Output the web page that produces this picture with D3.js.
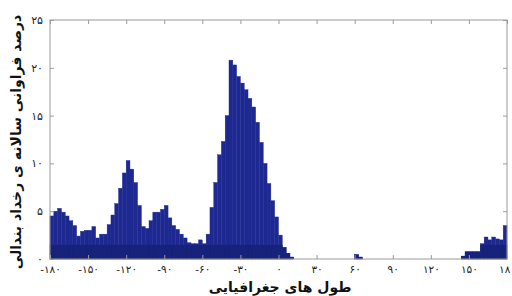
<!DOCTYPE html>
<html>
<head>
<meta charset="utf-8">
<script src="https://cdn.jsdelivr.net/npm/d3@7"></script>
<style>
  html, body { margin: 0; padding: 0; background: #fff; }
  svg { display: block; }
  text { font-family: "DejaVu Sans", sans-serif; }
</style>
</head>
<body>
<div id="chart"></div>
<script>
// bin start longitudes (3 degree bins)
var binStarts = d3.range(-180, 180, 3);

// yearly frequency percent per bin
var freq = [
  4.5, 5.0, 5.3, 4.9, 4.5, 4.0, 3.5, 2.4, 2.9, 3.0,
  3.0, 3.4, 2.2, 2.6, 2.6, 3.6, 4.6, 5.8, 7.4, 9.0,
  10.3, 9.4, 8.0, 5.6, 3.4, 3.2, 4.0, 4.9, 4.9, 5.2,
  5.6, 4.3, 3.5, 3.1, 2.6, 2.2, 1.7, 1.6, 1.6, 2.0,
  1.6, 2.6, 5.4, 8.0, 10.9, 12.3, 15.0, 20.8, 20.3, 19.1,
  18.4, 17.7, 16.8, 15.9, 14.3, 12.2, 10.0, 7.9, 6.1, 4.4,
  2.5, 1.2, 0.6, 0.2, 0, 0, 0, 0, 0, 0,
  0, 0, 0, 0, 0, 0, 0, 0, 0, 0,
  0.45, 0.2, 0, 0, 0, 0, 0, 0, 0, 0,
  0, 0, 0, 0, 0, 0, 0, 0, 0, 0,
  0, 0, 0, 0, 0, 0, 0, 0, 0.3, 0.75,
  0.75, 0.75, 0.75, 1.6, 2.3, 2.0, 2.3, 2.1, 2.0, 3.5
];

// darker lower layer seen at the base of the bars
var baseLayer = [
  1.45, 1.45, 1.45, 1.45, 1.45, 1.45, 1.45, 1.45, 1.45, 1.45,
  1.45, 1.45, 1.45, 1.45, 1.45, 1.45, 1.45, 1.45, 1.45, 1.45,
  1.45, 1.45, 1.45, 1.45, 1.45, 1.45, 1.45, 1.45, 1.45, 1.45,
  1.45, 1.45, 1.45, 1.45, 1.45, 1.45, 1.45, 1.45, 1.45, 1.45,
  1.45, 1.45, 1.45, 1.45, 1.45, 1.45, 1.45, 1.45, 1.45, 1.45,
  1.45, 1.45, 1.45, 1.45, 1.45, 1.45, 1.45, 1.45, 1.45, 1.45,
  1.45, 1.2, 0.6, 0.2, 0, 0, 0, 0, 0, 0,
  0, 0, 0, 0, 0, 0, 0, 0, 0, 0,
  0.45, 0.2, 0, 0, 0, 0, 0, 0, 0, 0,
  0, 0, 0, 0, 0, 0, 0, 0, 0, 0,
  0, 0, 0, 0, 0, 0, 0, 0, 0.3, 0.75,
  0.75, 0.75, 0.75, 1.45, 1.45, 1.45, 1.45, 1.45, 1.45, 1.45
];

var xTicks = d3.range(-180, 181, 30);
var yTicks = [0, 5, 10, 15, 20, 25];

var xTitle = "طول های جغرافیایی";
var yTitle = "درصد فراوانی سالانه ی رخداد بندالی";

var W = 512, H = 296;
var margin = {top: 20, right: 5, bottom: 37, left: 50};

// persian digits
function fa(n) {
  var digits = "۰۱۲۳۴۵۶۷۸۹";
  var s = String(Math.abs(n)).replace(/[0-9]/g, function (d) { return digits[+d]; });
  return (n < 0 ? "-" : "") + s;
}

var svg = d3.select("#chart").append("svg")
  .attr("width", W)
  .attr("height", H);

var x = d3.scaleLinear().domain([-180, 180]).range([margin.left, W - margin.right]);
var y = d3.scaleLinear().domain([0, 25]).range([H - margin.bottom, margin.top]);

var bins = binStarts.map(function (b, i) {
  return {x0: b, x1: b + 3, v: freq[i], base: baseLayer[i]};
});

// main bars
svg.append("g").selectAll("rect.bar")
  .data(bins.filter(function (d) { return d.v > 0; }))
  .join("rect")
  .attr("class", "bar")
  .attr("x", function (d) { return x(d.x0); })
  .attr("width", function (d) { return x(d.x1) - x(d.x0); })
  .attr("y", function (d) { return y(d.v); })
  .attr("height", function (d) { return y(0) - y(d.v); })
  .attr("fill", "#1d2991")
  .attr("stroke", "#1d2991")
  .attr("stroke-width", 0.4);

// darker bottom layer
svg.append("g").selectAll("rect.base")
  .data(bins.filter(function (d) { return d.base > 0; }))
  .join("rect")
  .attr("class", "base")
  .attr("x", function (d) { return x(d.x0); })
  .attr("width", function (d) { return x(d.x1) - x(d.x0); })
  .attr("y", function (d) { return y(d.base); })
  .attr("height", function (d) { return y(0) - y(d.base); })
  .attr("fill", "#17227a")
  .attr("stroke", "#17227a")
  .attr("stroke-width", 0.4);

/*******************
 * AXES + FRAME
 *******************/
var gridColor = "#9a9a9a";

svg.append("rect")
  .attr("x", x(-180)).attr("y", y(25))
  .attr("width", x(180) - x(-180)).attr("height", y(0) - y(25))
  .attr("fill", "none").attr("stroke", gridColor).attr("stroke-width", 1);

var xAxis = svg.append("g")
  .attr("transform", "translate(0," + y(0) + ")")
  .call(d3.axisBottom(x).tickValues(xTicks).tickSize(-4).tickPadding(7).tickFormat(fa));
xAxis.select(".domain").remove();
xAxis.selectAll("line").attr("stroke", gridColor);
xAxis.selectAll("text").attr("font-size", 10.5).attr("fill", "#222").attr("font-family", "DejaVu Sans");

var xTop = svg.append("g")
  .attr("transform", "translate(0," + y(25) + ")")
  .call(d3.axisTop(x).tickValues(xTicks).tickSize(-4).tickFormat(""));
xTop.select(".domain").remove();
xTop.selectAll("line").attr("stroke", gridColor);

var yAxis = svg.append("g")
  .attr("transform", "translate(" + x(-180) + ",0)")
  .call(d3.axisLeft(y).tickValues(yTicks).tickSize(-4).tickPadding(7).tickFormat(fa));
yAxis.select(".domain").remove();
yAxis.selectAll("line").attr("stroke", gridColor);
yAxis.selectAll("text").attr("font-size", 11).attr("fill", "#222").attr("font-family", "DejaVu Sans");

var yRight = svg.append("g")
  .attr("transform", "translate(" + x(180) + ",0)")
  .call(d3.axisRight(y).tickValues(yTicks).tickSize(-4).tickFormat(""));
yRight.select(".domain").remove();
yRight.selectAll("line").attr("stroke", gridColor);

// titles
svg.append("text")
  .attr("x", 280).attr("y", 292)
  .attr("text-anchor", "middle")
  .attr("direction", "rtl")
  .attr("font-size", 14)
  .attr("font-weight", "bold")
  .attr("fill", "#111")
  .text(xTitle);

svg.append("text")
  .attr("transform", "translate(21,142) rotate(-90)")
  .attr("text-anchor", "middle")
  .attr("direction", "rtl")
  .attr("font-size", 14)
  .attr("font-weight", "bold")
  .attr("fill", "#111")
  .text(yTitle);
</script>
</body>
</html>
